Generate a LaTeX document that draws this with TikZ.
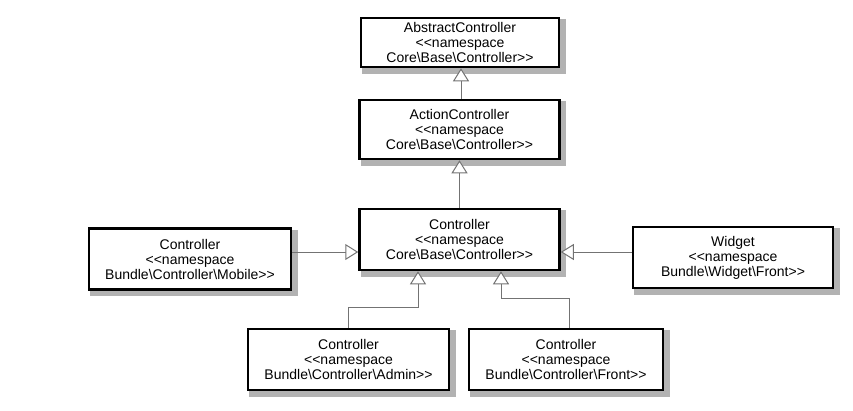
\documentclass[tikz,border=0pt]{standalone}
\usepackage{fontspec}
\setmainfont{Liberation Sans}
\usetikzlibrary{arrows.meta,backgrounds}
\begin{document}
\begin{tikzpicture}[x=1pt, y=-1pt,
  cls/.style={draw=black, line width=2.5pt, fill=white, align=center, inner sep=0pt,
    minimum width=200pt, minimum height=61pt, font=\fontsize{14}{15}\selectfont},
  inh/.style={draw=black!55, line width=1pt,
    -{Triangle[open, length=13pt, width=16pt, fill=white]}}]
\useasboundingbox (0,0) rectangle (853,410);
% classes
\node[cls, minimum height=49pt, minimum width=198pt] (abs) at (460,42.5) {AbstractController\\<{}<namespace\\Core\textbackslash Base\textbackslash Controller>{}>};
\node[cls, minimum height=59pt] (act) at (459.5,129.5) {ActionController\\<{}<namespace\\Core\textbackslash Base\textbackslash Controller>{}>};
\node[cls] (ctl) at (459.5,239.5) {Controller\\<{}<namespace\\Core\textbackslash Base\textbackslash Controller>{}>};
\node[cls, minimum width=202pt] (mob) at (190,259) {Controller\\<{}<namespace\\Bundle\textbackslash Controller\textbackslash Mobile>{}>};
\node[cls] (wid) at (733,257.5) {Widget\\<{}<namespace\\Bundle\textbackslash Widget\textbackslash Front>{}>};
\node[cls, minimum width=201pt] (adm) at (348.5,359.5) {Controller\\<{}<namespace\\Bundle\textbackslash Controller\textbackslash Admin>{}>};
\node[cls, minimum width=194pt] (frt) at (566,359.5) {Controller\\<{}<namespace\\Bundle\textbackslash Controller\textbackslash Front>{}>};
% shadows
\begin{scope}[on background layer]
\foreach \n in {abs,act,ctl,mob,wid,adm,frt}
  \fill[black!30] ([xshift=2.5pt,yshift=-5.5pt]\n.south west) rectangle ([xshift=5.5pt,yshift=-2.5pt]\n.north east);
\end{scope}
% inheritance
\draw[inh] ([xshift=1.5pt]act.north) -- ([xshift=1pt]abs.south);
\draw[inh] (ctl.north) -- (act.south);
\draw[inh] ([yshift=7pt]mob.east) -- ([yshift=7pt]mob.east -| ctl.west);
\draw[inh] ([yshift=5.5pt]wid.west) -- ([yshift=5.5pt]wid.west -| ctl.east);
\draw[inh] (adm.north) -- ++(0,-20) -| ([xshift=-41.5pt]ctl.south);
\draw[inh] ([xshift=3pt]frt.north) -- ++(0,-29) -| ([xshift=41.5pt]ctl.south);
\end{tikzpicture}
\end{document}
